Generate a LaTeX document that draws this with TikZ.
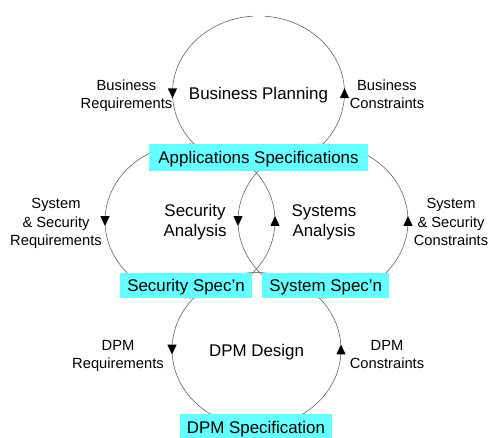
\documentclass[tikz,border=0pt]{standalone}
\usepackage{fontspec}
\setmainfont{Liberation Sans}
\usetikzlibrary{decorations.markings}
\definecolor{boxcyan}{RGB}{102,255,255}
\definecolor{linegray}{RGB}{90,90,90}
\newcommand{\mainsize}{\fontsize{16.9}{20}\selectfont}
\newcommand{\labsize}{\fontsize{14.7}{18.2}\selectfont}
\tikzset{
  cyc/.style={draw=linegray, line width=0.55pt},
  midtip/.style={postaction={decorate}, decoration={markings,
      mark=at position #1 with {\fill[black] (5pt,0pt) -- (-4.8pt,4.6pt) -- (-4.8pt,-4.6pt) -- cycle;}}},
  midtip/.default=0.5,
  specbox/.style={fill=boxcyan, minimum width=#1, minimum height=25.6pt, inner sep=0pt,
      font=\mainsize, text height=12.1pt, text depth=0pt},
  mainlbl/.style={font=\mainsize, align=center, inner sep=0pt},
  sidelbl/.style={font=\labsize, align=center, inner sep=0pt},
}
\begin{document}
\begin{tikzpicture}[x=1pt,y=1pt]
\useasboundingbox (0,0) rectangle (489,437);
\coordinate (cTop) at (258.5,344);
\coordinate (cSec) at (190,216);
\coordinate (cSys) at (323,216);
\coordinate (cDpm) at (256.5,87.5);
% business planning cycle
\draw[cyc, midtip=0.49] ([shift={(93.7:86 and 77)}]cTop) arc[start angle=93.7, end angle=270, x radius=86, y radius=77];
\draw[cyc, midtip=0.512] ([shift={(270:86 and 77)}]cTop) arc[start angle=270, end angle=445.7, x radius=86, y radius=77];
% security cycle
\draw[cyc, midtip] ([shift={(90:85 and 77)}]cSec) arc[start angle=90, end angle=270, x radius=85, y radius=77];
\draw[cyc, midtip] ([shift={(270:85 and 77)}]cSec) arc[start angle=270, end angle=450, x radius=85, y radius=77];
% system cycle
\draw[cyc, midtip] ([shift={(90:85 and 77)}]cSys) arc[start angle=90, end angle=270, x radius=85, y radius=77];
\draw[cyc, midtip] ([shift={(270:85 and 77)}]cSys) arc[start angle=270, end angle=450, x radius=85, y radius=77];
% DPM cycle
\draw[cyc, midtip] ([shift={(90:84.5 and 77)}]cDpm) arc[start angle=90, end angle=270, x radius=84.5, y radius=77];
\draw[cyc, midtip] ([shift={(270:84.5 and 77)}]cDpm) arc[start angle=270, end angle=450, x radius=84.5, y radius=77];
% labels
\node[mainlbl] (bp) at (258.5,341.7) {\strut Business Planning};
\node[sidelbl] (breq) at (126.5,340.9) {\strut Business\\\strut Requirements};
\node[sidelbl] (bcon) at (387,340.9) {\strut Business\\\strut Constraints};
\node[specbox=219pt, minimum height=26.5pt] (apps) at (258.5,279.3) {Applications Specifications};
\node[sidelbl] (ssreq) at (56,213.5) {\strut System\\\strut \& Security\\\strut Requirements};
\node[mainlbl] (sa) at (195,214.3) {\strut Security\\\strut Analysis};
\node[mainlbl] (sya) at (324,214.3) {\strut Systems\\\strut Analysis};
\node[sidelbl] (sscon) at (451,213.5) {\strut System\\\strut \& Security\\\strut Constraints};
\node[specbox=132pt] (secspec) at (186,151.5) {Security Spec'n};
\node[specbox=126.7pt] (sysspec) at (325.7,151.5) {System Spec'n};
\node[sidelbl] (dreq) at (118,81.5) {\strut DPM\\\strut Requirements};
\node[mainlbl] (dd) at (256.5,85) {\strut DPM Design};
\node[sidelbl] (dcon) at (387,81.5) {\strut DPM\\\strut Constraints};
\node[specbox=152pt] (dpmspec) at (255.9,9.9) {DPM Specification};
\end{tikzpicture}
\end{document}
